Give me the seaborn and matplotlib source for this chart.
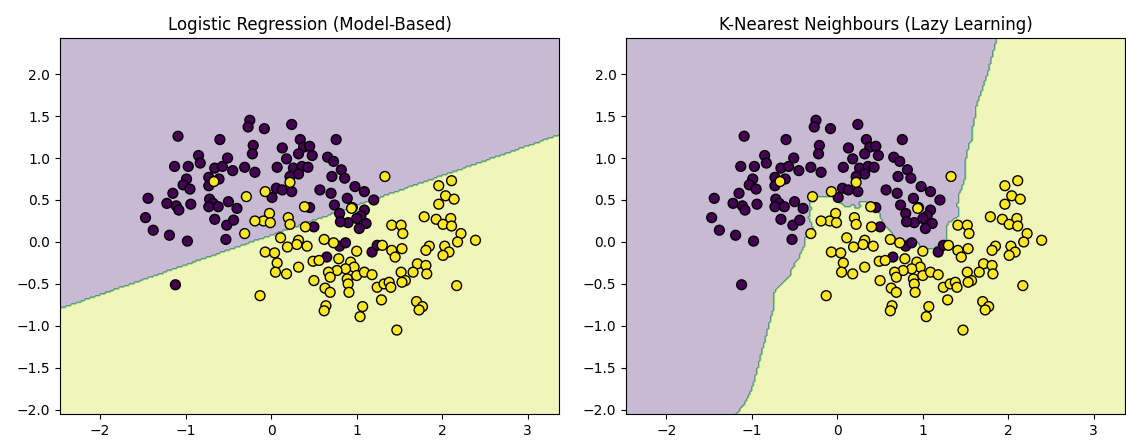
import numpy as np
import pandas as pd
import matplotlib
matplotlib.use("Agg")
import matplotlib.pyplot as plt
import seaborn as sns

# class 0 (upper moon)
class0_x = [-1.09, -0.60, -0.25, -0.27, -0.08, 0.24, 0.34, 0.38, 0.45, 0.32,
            0.48, 0.76, 0.13, -0.21, -0.22, -0.85, -0.51, -1.13, -0.97, -0.83,
            -0.66, -0.57, -0.45, -0.31, -0.99, -1.03, -0.95, -0.73, -0.61, -0.73,
            -1.15, -1.44, -1.22, -1.11, -1.08, -0.94, -0.72, -0.68, -0.73, -0.62,
            -0.50, -0.40, -1.47, -1.38, -0.66, -0.52, -0.44, -1.19, -0.98, -1.12,
            0.18, 0.07, 0.26, 0.36, 0.43, 0.32, 0.22, 0.66, 0.73, 0.82,
            0.71, 0.86, 0.98, 1.09, -0.19, 0.57, 0.70, 0.06, 0.13, 0.01,
            0.24, 0.89, 0.74, 0.95, 0.80, 1.09, 1.05, 0.90, 1.00, 1.11,
            0.45, 0.50, 1.20, 0.80, 0.87, 0.65, 1.18, 1.24, 0.81, 1.03,
            -0.53]
class0_y = [1.26, 1.22, 1.45, 1.37, 1.35, 1.40, 1.22, 1.13, 1.14, 1.05,
            1.03, 1.22, 1.12, 1.15, 1.05, 1.03, 1.00, 0.90, 0.90, 0.94,
            0.88, 0.90, 0.85, 0.89, 0.75, 0.68, 0.63, 0.77, 0.75, 0.67,
            0.58, 0.52, 0.46, 0.43, 0.38, 0.45, 0.51, 0.46, 0.42, 0.42,
            0.48, 0.40, 0.29, 0.14, 0.27, 0.20, 0.26, 0.08, 0.01, -0.51,
            0.99, 0.89, 0.88, 0.90, 0.89, 0.81, 0.78, 1.01, 0.96, 0.86,
            0.78, 0.76, 0.66, 0.60, 0.83, 0.62, 0.58, 0.64, 0.62, 0.53,
            0.60, 0.52, 0.44, 0.41, 0.34, 0.38, 0.31, 0.23, 0.28, 0.22,
            0.41, 0.18, 0.50, -0.05, -0.01, -0.18, -0.12, -0.04, 0.24, 0.16,
            0.03]

# class 1 (lower moon)
class1_x = [-0.67, -0.29, 0.22, -0.07, 0.39, 0.94, -0.02, 0.20, -0.09, -0.19,
            0.22, 0.40, 1.33, 1.96, 2.11, 2.04, 2.14, 1.96, 1.79, 1.93,
            2.10, 1.41, 1.52, 2.01, 2.11, -0.31, 0.11, 0.32, 0.30, 0.42,
            0.19, 0.62, 0.73, 1.00, -0.07, 0.04, 0.07, 0.05, 0.18, 0.32,
            0.49, 0.56, 0.79, 0.93, 0.97, 0.87, 0.77, 0.67, 0.69, 0.89,
            1.00, 1.09, 0.90, 0.50, 0.63, 0.69, 0.91, -0.13, 0.64, 0.62,
            1.07, 1.04, 1.54, 2.22, 2.39, 2.18, 2.03, 2.08, 2.01, 1.85,
            1.81, 1.30, 1.41, 1.53, 1.45, 1.71, 1.81, 1.82, 1.66, 1.52,
            1.57, 1.53, 1.18, 1.24, 1.32, 1.38, 1.40, 2.17, 1.29, 1.70,
            1.77, 1.73, 1.47, -0.01]
class1_y = [0.72, 0.54, 0.71, 0.60, 0.42, 0.40, 0.34, 0.29, 0.25, 0.25,
            0.21, 0.18, 0.78, 0.67, 0.73, 0.55, 0.51, 0.45, 0.30, 0.27,
            0.28, 0.20, 0.20, 0.21, 0.19, 0.10, 0.05, 0.02, -0.03, -0.05,
            -0.06, 0.03, -0.01, -0.11, -0.12, -0.13, -0.25, -0.36, -0.38, -0.30,
            -0.23, -0.22, -0.20, -0.24, -0.30, -0.32, -0.34, -0.36, -0.42, -0.44,
            -0.40, -0.36, -0.50, -0.46, -0.55, -0.60, -0.60, -0.64, -0.76, -0.82,
            -0.77, -0.89, 0.10, 0.10, 0.02, 0.00, -0.05, -0.12, -0.16, -0.05,
            -0.10, -0.04, -0.10, -0.08, -0.18, -0.26, -0.28, -0.38, -0.36, -0.36,
            -0.46, -0.48, -0.39, -0.54, -0.50, -0.48, -0.54, -0.52, -0.69, -0.71,
            -0.77, -0.81, -1.05, 0.23]

titles = ["Logistic Regression (Model-Based)", "K-Nearest Neighbours (Lazy Learning)"]

X = np.column_stack([np.r_[class0_x, class1_x], np.r_[class0_y, class1_y]])
labels = np.r_[np.zeros(len(class0_x), int), np.ones(len(class1_x), int)]
df = pd.DataFrame({"x1": X[:, 0], "x2": X[:, 1], "label": labels})


def fit_logistic(X, y, C=1.0, iters=60):
    """L2-regularised logistic regression solved with Newton's method."""
    Xa = np.column_stack([X, np.ones(len(X))])
    w = np.zeros(Xa.shape[1])
    reg = np.diag([1.0] * X.shape[1] + [0.0])
    for _ in range(iters):
        p = 1.0 / (1.0 + np.exp(-Xa @ w))
        grad = C * Xa.T @ (p - y) + reg @ w
        H = C * (Xa * (p * (1 - p))[:, None]).T @ Xa + reg
        w -= np.linalg.solve(H, grad)
    return w


def predict_logistic(w, P):
    return (np.column_stack([P, np.ones(len(P))]) @ w > 0).astype(int)


def predict_knn(X, y, P, k=5):
    d = ((P[:, None, :] - X[None, :, :]) ** 2).sum(-1)
    idx = np.argsort(d, axis=1)[:, :k]
    return (y[idx].mean(axis=1) > 0.5).astype(int)


h = 0.02
x_min, x_max = X[:, 0].min() - 1, X[:, 0].max() + 1
y_min, y_max = X[:, 1].min() - 1, X[:, 1].max() + 1
xx, yy = np.meshgrid(np.arange(x_min, x_max, h), np.arange(y_min, y_max, h))
grid = np.c_[xx.ravel(), yy.ravel()]

w = fit_logistic(X, labels.astype(float), C=4.0)
Z_lr = predict_logistic(w, grid).reshape(xx.shape)
Z_knn = predict_knn(X, labels, grid, k=7).reshape(xx.shape)

fig, axes = plt.subplots(1, 2, figsize=(11.26, 4.42), dpi=100)
fig.subplots_adjust(left=0.0533, right=0.9995, bottom=0.0633, top=0.914, wspace=0.134)

for ax, Z, title in zip(axes, [Z_lr, Z_knn], titles):
    ax.contourf(xx, yy, Z, alpha=0.3, cmap="viridis")
    sns.scatterplot(data=df, x="x1", y="x2", hue="label",
                    palette={0: "#440154", 1: "#fde725"},
                    edgecolor="k", linewidth=1.0, s=50, legend=False, ax=ax)
    ax.set_xlim(xx.min(), xx.max())
    ax.set_ylim(yy.min(), yy.max())
    ax.set_xlabel("")
    ax.set_ylabel("")
    ax.set_title(title, fontsize=12)

fig.savefig("out.png", dpi=100)
